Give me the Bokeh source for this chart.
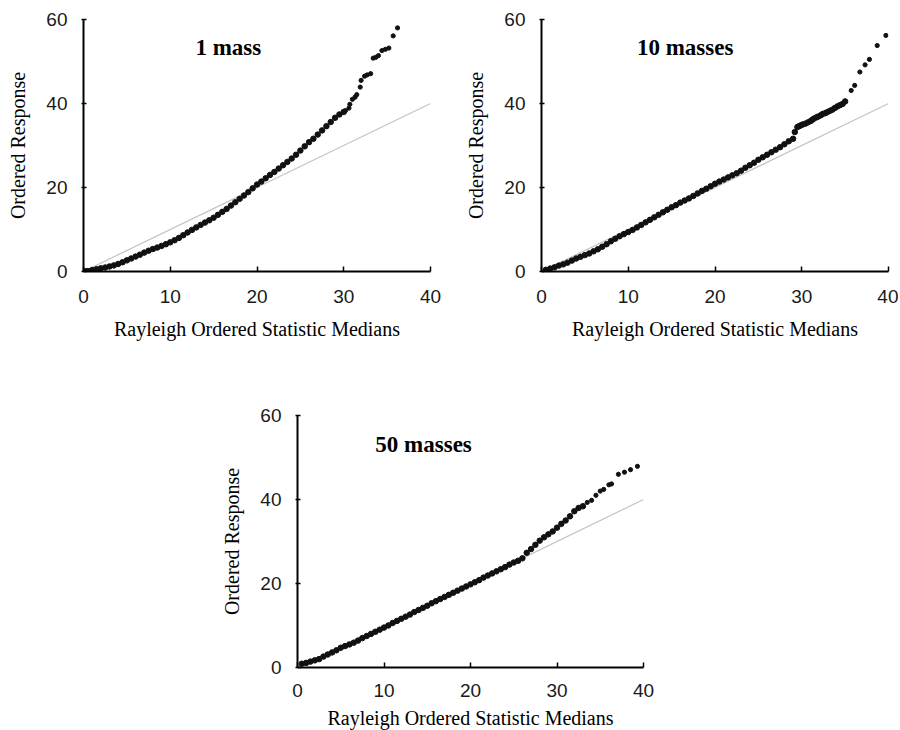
from bokeh.plotting import figure
from bokeh.layouts import column, row
from bokeh.models import Range1d, Label, Spacer, FixedTicker
from bokeh.embed import file_html
from bokeh.resources import INLINE

X_TICKS = [0, 10, 20, 30, 40]
Y_TICKS = [0, 20, 40, 60]
REF_X = [0, 40]
REF_Y = [0, 40]
TITLES = ["1 mass", "10 masses", "50 masses"]
X_LABEL = "Rayleigh Ordered Statistic Medians"
Y_LABEL = "Ordered Response"

# Panel 1: 1 mass (dense body, then sparse upper tail)
X1 = [0.2, 0.5, 1.0, 1.5, 2.0, 2.5, 3.0, 3.5, 4.0, 4.5, 5.0, 5.5, 6.0, 6.5, 7.0, 7.5,
      8.0, 8.5, 9.0, 9.5, 10.0, 10.5, 11.0, 11.5, 12.0, 12.5, 13.0, 13.5, 14.0, 14.5,
      15.0, 15.5, 16.0, 16.5, 17.0, 17.5, 18.0, 18.5, 19.0, 19.5, 20.0, 20.5, 21.0,
      21.5, 22.0, 22.5, 23.0, 23.5, 24.0, 24.5, 25.0, 25.5, 26.0, 26.5, 27.0, 27.5,
      28.0, 28.5, 29.0, 29.5, 30.0]
Y1 = [0.05, 0.1, 0.35, 0.55, 0.75, 0.95, 1.2, 1.45, 1.8, 2.2, 2.65, 3.1, 3.55, 4.0, 4.5, 4.95,
      5.35, 5.7, 6.1, 6.5, 6.95, 7.45, 8.0, 8.65, 9.3, 9.9, 10.5, 11.1, 11.65, 12.2,
      12.8, 13.5, 14.2, 14.9, 15.7, 16.5, 17.3, 18.1, 18.9, 19.8, 20.7, 21.4, 22.2,
      23.0, 23.7, 24.5, 25.3, 26.1, 26.9, 27.8, 28.8, 29.8, 30.8, 31.6, 32.6, 33.6,
      34.6, 35.6, 36.6, 37.4, 38.0]
X1_TAIL = [30.2, 30.6, 30.7, 31.0, 31.3, 31.5, 31.9, 32.0, 32.4, 32.7, 33.1, 33.4, 33.7,
           34.0, 34.4, 34.8, 35.2, 35.7, 36.2]
Y1_TAIL = [38.3, 38.9, 39.8, 41.0, 41.5, 42.1, 43.9, 45.5, 46.5, 46.8, 47.1, 50.8, 51.0,
           51.4, 52.6, 52.9, 53.2, 56.1, 58.0]

# Panel 2: 10 masses
X2 = [0.5, 1.0, 1.5, 2.0, 2.5, 3.0, 3.5, 4.0, 4.5, 5.0, 5.5, 6.0, 6.5, 7.0, 7.5,
      8.0, 8.5, 9.0, 9.5, 10.0, 10.5, 11.0, 11.5, 12.0, 12.5, 13.0, 13.5, 14.0, 14.5,
      15.0, 15.5, 16.0, 16.5, 17.0, 17.5, 18.0, 18.5, 19.0, 19.5, 20.0, 20.5, 21.0,
      21.5, 22.0, 22.5, 23.0, 23.5, 24.0, 24.5, 25.0, 25.5, 26.0, 26.5, 27.0, 27.5,
      28.0, 28.5, 29.0,
      29.2, 29.5, 29.7, 29.9, 30.1, 30.4, 30.7, 31.0, 31.2, 31.4, 31.7, 31.9, 32.2,
      32.4, 32.7, 32.9, 33.2, 33.5, 33.8, 34.1, 34.4, 34.7, 35.0]
Y2 = [0.4, 0.7, 1.0, 1.4, 1.7, 2.1, 2.6, 3.1, 3.5, 3.9, 4.3, 4.8, 5.3, 5.9, 6.5,
      7.2, 7.8, 8.4, 8.9, 9.4, 9.9, 10.5, 11.1, 11.7, 12.3, 12.9, 13.5, 14.1, 14.7,
      15.3, 15.8, 16.4, 16.9, 17.4, 18.0, 18.6, 19.2, 19.7, 20.3, 20.9, 21.4, 21.9,
      22.4, 22.9, 23.4, 24.0, 24.7, 25.3, 25.9, 26.6, 27.2, 27.8, 28.4, 29.0, 29.6,
      30.3, 31.0, 31.6,
      33.2, 34.4, 34.6, 34.8, 35.0, 35.2, 35.5, 35.8, 36.1, 36.4, 36.7, 36.9, 37.2,
      37.5, 37.7, 37.9, 38.2, 38.5, 38.9, 39.3, 39.6, 39.9, 40.5]
X2_TAIL = [35.7, 36.1, 36.7, 37.3, 37.8, 38.7, 39.7]
Y2_TAIL = [43.1, 44.3, 47.5, 49.2, 50.5, 53.8, 56.2]

# Panel 3: 50 masses
X3 = [0.5, 1.0, 1.5, 2.0, 2.5, 3.0, 3.5, 4.0, 4.5, 5.0, 5.5, 6.0, 6.5, 7.0, 7.5,
      8.0, 8.5, 9.0, 9.5, 10.0, 10.5, 11.0, 11.5, 12.0, 12.5, 13.0, 13.5, 14.0, 14.5,
      15.0, 15.5, 16.0, 16.5, 17.0, 17.5, 18.0, 18.5, 19.0, 19.5, 20.0, 20.5, 21.0,
      21.5, 22.0, 22.5, 23.0, 23.5, 24.0, 24.5, 25.0, 25.5, 26.0, 26.5, 27.0, 27.5,
      28.0, 28.5, 29.0, 29.5, 30.0, 30.5, 31.0, 31.5, 32.0, 32.5, 33.0]
Y3 = [0.9, 1.1, 1.4, 1.7, 2.0, 2.6, 3.1, 3.6, 4.1, 4.7, 5.1, 5.5, 5.9, 6.4, 7.0,
      7.5, 8.0, 8.5, 9.0, 9.5, 10.0, 10.6, 11.1, 11.6, 12.1, 12.6, 13.2, 13.7, 14.2,
      14.7, 15.3, 15.8, 16.3, 16.8, 17.3, 17.8, 18.3, 18.8, 19.3, 19.8, 20.3, 20.8,
      21.4, 21.9, 22.4, 22.9, 23.4, 23.9, 24.5, 25.0, 25.4, 26.0, 27.3, 28.2, 29.2,
      30.2, 31.0, 31.7, 32.4, 33.3, 34.2, 35.0, 36.0, 37.2, 38.0, 38.4]
X3_TAIL = [33.5, 34.0, 34.5, 35.0, 35.4, 36.0, 36.3, 37.1, 37.8, 38.5, 39.3]
Y3_TAIL = [39.3, 39.8, 41.0, 42.0, 42.4, 43.5, 43.7, 46.0, 46.5, 47.1, 47.9]

TICK_FONT = "Liberation Sans"
LABEL_FONT = "Liberation Serif"


def make_panel(xs, ys, xt, yt, title, tx, ty, fw, fh, left, right, top, bottom,
               xlab_standoff, xtitle_standoff):
    p = figure(frame_width=fw, frame_height=fh,
               x_range=Range1d(0, 40), y_range=Range1d(0, 60),
               output_backend="svg", toolbar_location=None,
               min_border_left=left, min_border_right=right,
               min_border_top=top, min_border_bottom=bottom)
    p.outline_line_color = None
    p.xgrid.visible = False
    p.ygrid.visible = False
    p.background_fill_color = "white"
    p.border_fill_color = "white"

    p.line(REF_X, REF_Y, line_color="#c4c4c4", line_width=1.2)
    p.scatter(xs, ys, size=5.5, marker="circle", fill_color="#111111",
              line_color="#111111")
    p.scatter(xt, yt, size=4.2, marker="circle", fill_color="#111111",
              line_color="#111111")

    for ax in (p.xaxis[0], p.yaxis[0]):
        ax.axis_line_width = 2
        ax.axis_line_color = "black"
        ax.major_tick_line_color = "black"
        ax.major_tick_line_width = 1.5
        ax.minor_tick_line_color = None
        ax.major_label_text_font = TICK_FONT
        ax.major_label_text_font_size = "19px"
        ax.major_label_text_color = "#1a1a1a"
        ax.axis_label_text_font = LABEL_FONT
        ax.axis_label_text_font_size = "20px"
        ax.axis_label_text_font_style = "normal"
        ax.axis_label_text_color = "black"

    p.xaxis.ticker = FixedTicker(ticks=X_TICKS)
    p.yaxis.ticker = FixedTicker(ticks=Y_TICKS)
    p.xaxis.major_tick_in = 5
    p.xaxis.major_tick_out = 0
    p.yaxis.major_tick_in = 3
    p.yaxis.major_tick_out = 2
    p.xaxis.major_label_standoff = xlab_standoff
    p.xaxis.axis_label_standoff = xtitle_standoff
    p.yaxis.major_label_standoff = 14
    p.yaxis.axis_label_standoff = 14
    p.xaxis.axis_label = X_LABEL
    p.yaxis.axis_label = Y_LABEL

    p.add_layout(Label(x=tx, y=ty, text=title, text_font=LABEL_FONT,
                       text_font_style="bold", text_font_size="23px",
                       text_color="black", text_baseline="alphabetic"))
    return p


p1 = make_panel(X1, Y1, X1_TAIL, Y1_TAIL, TITLES[0], 12.9, 53.3,
                347, 252, 83, 28, 19, 74, 18, 12)
p2 = make_panel(X2, Y2, X2_TAIL, Y2_TAIL, TITLES[1], 11.0, 53.3,
                347, 252, 83, 10, 19, 74, 18, 12)
p3 = make_panel(X3, Y3, X3_TAIL, Y3_TAIL, TITLES[2], 9.0, 53.0,
                346, 252, 97, 15, 70, 55, 16, 7)

layout = column(row(p1, p2), row(Spacer(width=200, height=10), p3))

with open("out.html", "w") as f:
    f.write(file_html(layout, INLINE))
